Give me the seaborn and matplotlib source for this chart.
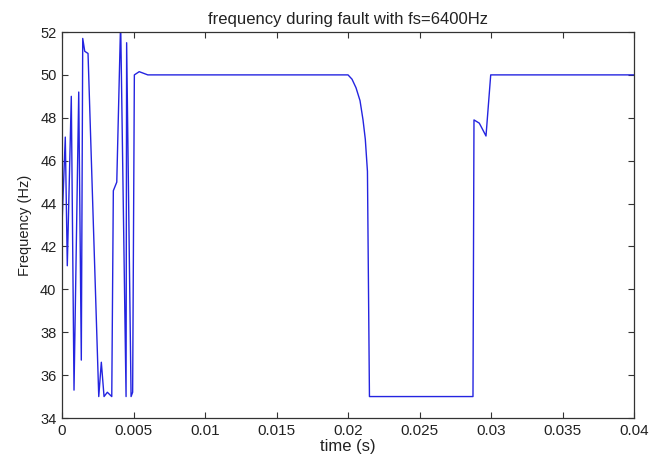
import matplotlib
matplotlib.use("Agg")
import matplotlib.pyplot as plt
from matplotlib.ticker import FuncFormatter
import pandas as pd
import seaborn as sns

# Estimated frequency trace during the fault (time in s, frequency in Hz)
time_s = [
    0.0, 0.00023, 0.00037, 0.00065, 0.00084, 0.00117, 0.00135, 0.00145,
    0.00159, 0.00182, 0.00257, 0.00275, 0.00294, 0.00317, 0.00348, 0.00359,
    0.00383, 0.0041, 0.00448, 0.00452, 0.00483, 0.00494, 0.00506, 0.0054,
    0.006, 0.0200, 0.02028, 0.02056, 0.02084, 0.02105, 0.02121, 0.02136,
    0.02150, 0.02874, 0.02881, 0.02918, 0.02930, 0.02965, 0.02998, 0.0400,
]
freq_hz = [
    43.0, 47.1, 41.1, 49.0, 35.3, 49.2, 36.7, 51.7,
    51.1, 51.0, 35.0, 36.6, 35.0, 35.2, 35.0, 44.6,
    45.0, 52.5, 35.0, 51.5, 35.0, 35.2, 50.0, 50.15,
    50.0, 50.0, 49.8, 49.4, 48.8, 47.9, 47.0, 45.5,
    35.0, 35.0, 47.9, 47.75, 47.6, 47.15, 50.0, 50.0,
]

x_ticks = [0, 0.005, 0.01, 0.015, 0.02, 0.025, 0.03, 0.035, 0.04]
y_ticks = [34, 36, 38, 40, 42, 44, 46, 48, 50, 52]

df = pd.DataFrame({"time": time_s, "freq": freq_hz})

sns.set_style("ticks")
plt.rcParams["font.family"] = ["Liberation Sans", "DejaVu Sans"]
plt.rcParams["text.color"] = "#222222"
plt.rcParams["axes.labelcolor"] = "#222222"

fig = plt.figure(figsize=(6.64, 4.62), dpi=100)
ax = fig.add_axes([62 / 664, 1 - 418 / 462, (634 - 62) / 664, (418 - 32) / 462])

sns.lineplot(data=df, x="time", y="freq", ax=ax, color="#2424e0",
             linewidth=1.0, sort=False, estimator=None)

ax.set_xlim(0, 0.04)
ax.set_ylim(34, 52)
ax.set_xticks(x_ticks)
ax.set_yticks(y_ticks)
ax.xaxis.set_major_formatter(FuncFormatter(lambda v, p: f"{v:g}"))
ax.yaxis.set_major_formatter(FuncFormatter(lambda v, p: f"{v:g}"))

for side in ["top", "right", "bottom", "left"]:
    ax.spines[side].set_visible(True)
    ax.spines[side].set_color("#333333")
    ax.spines[side].set_linewidth(0.9)

ax.tick_params(direction="in", length=4, width=0.8, top=True, right=True,
               colors="#333333", labelcolor="#222222", pad=4)
ax.tick_params(axis="x", labelsize=11)
ax.tick_params(axis="y", labelsize=10.5)

ax.set_title("frequency during fault with fs=6400Hz", fontsize=12, pad=6)
ax.set_xlabel("time (s)", fontsize=12, labelpad=1)
ax.set_ylabel("Frequency (Hz)", fontsize=10.5, labelpad=6)

fig.savefig("out.png", dpi=100, facecolor="white")
